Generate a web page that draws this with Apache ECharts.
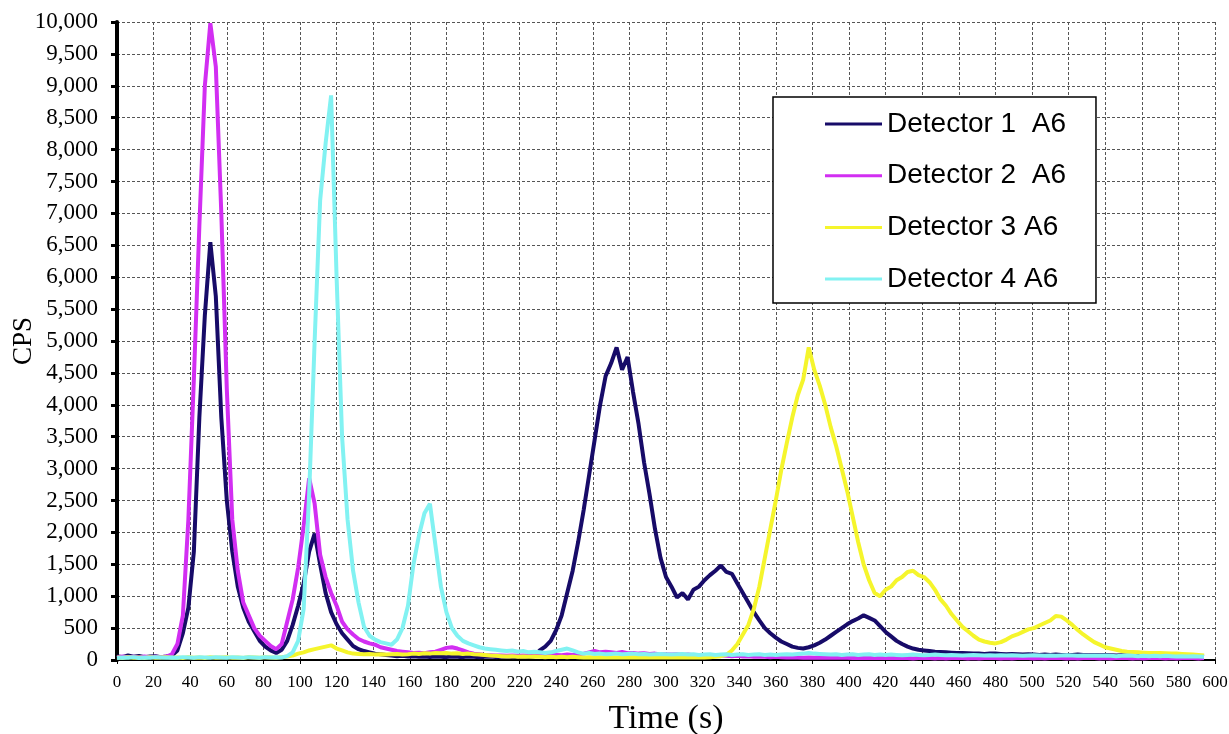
<!DOCTYPE html>
<html>
<head>
<meta charset="UTF-8">
<title>Detector CPS</title>
<script src="https://cdn.jsdelivr.net/npm/echarts@6/dist/echarts.min.js"></script>
<style>
	html, body { margin: 0; padding: 0; background: #fff; }
	#chart { width: 1229px; height: 734px; }
</style>
</head>
<body>
<div id="chart"></div>
<script>
// time samples (s), every 3 s
var time = [
	0, 3, 6, 9, 12, 15, 18, 21, 24, 27,
	30, 33, 36, 39, 42, 45, 48, 51, 54, 57,
	60, 63, 66, 69, 72, 75, 78, 81, 84, 87,
	90, 93, 96, 99, 102, 105, 108, 111, 114, 117,
	120, 123, 126, 129, 132, 135, 138, 141, 144, 147,
	150, 153, 156, 159, 162, 165, 168, 171, 174, 177,
	180, 183, 186, 189, 192, 195, 198, 201, 204, 207,
	210, 213, 216, 219, 222, 225, 228, 231, 234, 237,
	240, 243, 246, 249, 252, 255, 258, 261, 264, 267,
	270, 273, 276, 279, 282, 285, 288, 291, 294, 297,
	300, 303, 306, 309, 312, 315, 318, 321, 324, 327,
	330, 333, 336, 339, 342, 345, 348, 351, 354, 357,
	360, 363, 366, 369, 372, 375, 378, 381, 384, 387,
	390, 393, 396, 399, 402, 405, 408, 411, 414, 417,
	420, 423, 426, 429, 432, 435, 438, 441, 444, 447,
	450, 453, 456, 459, 462, 465, 468, 471, 474, 477,
	480, 483, 486, 489, 492, 495, 498, 501, 504, 507,
	510, 513, 516, 519, 522, 525, 528, 531, 534, 537,
	540, 543, 546, 549, 552, 555, 558, 561, 564, 567,
	570, 573, 576, 579, 582, 585, 588, 591, 594
];

var det1 = [
	60, 45, 70, 50, 65, 45, 55, 60, 45, 55,
	70, 150, 420, 820, 1700, 3800, 5400, 6550, 5700, 3800,
	2500, 1700, 1150, 820, 600, 450, 300, 210, 150, 110,
	160, 300, 550, 850, 1200, 1700, 1980, 1500, 1050, 750,
	560, 420, 320, 220, 170, 140, 120, 100, 90, 80,
	70, 60, 65, 55, 60, 50, 55, 45, 55, 50,
	45, 55, 50, 45, 55, 50, 45, 50, 55, 45,
	50, 55, 45, 50, 55, 45, 60, 150, 210, 300,
	470, 700, 1050, 1400, 1850, 2350, 2900, 3450, 4000, 4450,
	4650, 4900, 4550, 4750, 4200, 3700, 3100, 2600, 2050, 1600,
	1300, 1150, 980, 1050, 950, 1100, 1150, 1250, 1330, 1400,
	1480, 1380, 1350, 1200, 1050, 900, 750, 620, 500, 420,
	350, 290, 250, 210, 190, 180, 200, 230, 270, 320,
	380, 440, 500, 560, 610, 650, 700, 660, 620, 530,
	440, 370, 300, 250, 210, 180, 160, 150, 140, 130,
	125, 120, 115, 110, 110, 105, 100, 100, 95, 100,
	100, 95, 90, 95, 90, 85, 90, 85, 80, 85,
	80, 85, 80, 75, 80, 85, 80, 75, 80, 75,
	80, 75, 70, 75, 70, 65, 70, 65, 60, 65,
	60, 65, 60, 55, 60, 55, 60, 55, 50
];

var det2 = [
	40, 55, 45, 50, 40, 55, 45, 50, 45, 55,
	90, 250, 700, 2200, 4400, 6800, 9000, 9980, 9300, 7000,
	4250, 2200, 1400, 900, 700, 500, 380, 300, 220, 170,
	250, 600, 950, 1450, 2100, 2850, 2450, 1650, 1300, 1050,
	850, 600, 480, 400, 330, 290, 260, 240, 200, 180,
	160, 140, 130, 120, 110, 115, 105, 120, 130, 160,
	190, 200, 180, 150, 120, 100, 90, 80, 75, 70,
	70, 65, 70, 65, 70, 65, 70, 75, 70, 75,
	80, 75, 85, 80, 90, 100, 120, 140, 120, 130,
	120, 110, 125, 105, 110, 100, 105, 95, 100, 90,
	90, 85, 90, 80, 85, 75, 80, 70, 75, 70,
	70, 65, 60, 65, 55, 60, 50, 55, 50, 45,
	50, 45, 40, 45, 40, 35, 40, 35, 40, 35,
	40, 35, 40, 35, 30, 35, 30, 35, 30, 35,
	30, 35, 30, 35, 30, 25, 30, 35, 30, 25,
	30, 25, 30, 35, 30, 25, 30, 25, 30, 35,
	30, 25, 30, 25, 30, 35, 30, 25, 30, 25,
	30, 35, 30, 25, 30, 25, 30, 35, 30, 25,
	30, 25, 30, 35, 30, 25, 30, 25, 30, 35,
	30, 25, 30, 25, 30, 35, 30, 25, 30
];

var det3 = [
	40, 30, 45, 35, 40, 30, 45, 35, 40, 45,
	35, 40, 30, 45, 35, 40, 30, 45, 35, 40,
	45, 35, 40, 30, 45, 40, 35, 45, 40, 35,
	45, 55, 70, 100, 120, 150, 170, 190, 210, 230,
	180, 150, 120, 100, 95, 90, 95, 85, 90, 85,
	90, 95, 85, 90, 100, 95, 105, 100, 110, 105,
	110, 100, 105, 95, 100, 90, 85, 80, 70, 65,
	60, 55, 60, 50, 55, 50, 55, 50, 45, 50,
	45, 50, 45, 50, 45, 40, 45, 40, 45, 40,
	45, 40, 45, 40, 45, 40, 45, 40, 45, 40,
	45, 40, 45, 40, 45, 40, 45, 40, 45, 50,
	60, 80, 150, 250, 400, 550, 800, 1150, 1600, 2050,
	2500, 2980, 3400, 3800, 4150, 4400, 4900, 4550, 4300, 4000,
	3650, 3350, 3000, 2650, 2250, 1850, 1500, 1250, 1050, 1000,
	1100, 1150, 1250, 1300, 1380, 1400, 1330, 1300, 1220, 1100,
	950, 850, 720, 620, 520, 450, 380, 320, 290, 270,
	260, 280, 320, 370, 400, 440, 480, 500, 540, 580,
	620, 690, 680, 620, 550, 470, 400, 340, 280, 240,
	200, 180, 160, 140, 130, 125, 120, 115, 110, 110,
	110, 105, 100, 100, 95, 90, 85, 80, 70
];

var det4 = [
	30, 40, 35, 45, 30, 40, 35, 45, 40, 35,
	40, 35, 45, 40, 35, 45, 40, 35, 45, 40,
	35, 45, 40, 35, 45, 40, 35, 45, 40, 45,
	40, 60, 120, 300, 800, 2600, 5000, 7200, 8100, 8850,
	6000, 3500, 2200, 1400, 900, 520, 380, 320, 280, 260,
	240, 320, 500, 850, 1500, 1950, 2300, 2450, 1800, 1150,
	750, 500, 380, 300, 260, 230, 200, 180, 170, 160,
	150, 140, 150, 130, 140, 120, 130, 120, 110, 120,
	140, 160, 180, 150, 120, 100, 110, 95, 100, 90,
	95, 100, 90, 95, 100, 90, 95, 85, 90, 95,
	90, 85, 90, 95, 85, 90, 80, 85, 90, 80,
	85, 90, 80, 85, 90, 80, 85, 90, 80, 85,
	80, 85, 90, 85, 95, 100, 110, 100, 95, 90,
	85, 90, 80, 85, 90, 80, 85, 90, 80, 85,
	80, 85, 80, 75, 80, 85, 80, 75, 80, 85,
	80, 75, 80, 75, 70, 75, 80, 75, 70, 75,
	70, 75, 70, 75, 70, 65, 70, 75, 70, 65,
	70, 65, 70, 75, 70, 65, 70, 65, 70, 65,
	70, 65, 60, 65, 70, 65, 60, 65, 60, 65,
	60, 65, 60, 55, 60, 55, 60, 55, 50
];

var names = ['Detector 1  A6', 'Detector 2  A6', 'Detector 3 A6', 'Detector 4 A6'];
var colors = ['#170b68', '#d22ef2', '#f5f52c', '#82f2f2'];
var values = [det1, det2, det3, det4];

function pairs(ys) {
	var out = [];
	for (var i = 0; i < time.length && i < ys.length; i++) out.push([time[i], ys[i]]);
	return out;
}

var chart = echarts.init(document.getElementById('chart'), null, { renderer: 'canvas' });

var gridLine = { show: true, lineStyle: { color: '#555', width: 1, type: [3, 2] } };

var series = [];
for (var k = 0; k < names.length; k++) {
	series.push({
		name: names[k],
		type: 'line',
		data: pairs(values[k]),
		symbol: 'none',
		lineStyle: { color: colors[k], width: 4 },
		itemStyle: { color: colors[k] },
		emphasis: { disabled: true }
	});
}

var legendData = [];
for (var j = 0; j < names.length; j++) {
	legendData.push({ name: names[j], icon: 'rect', itemStyle: { color: colors[j] } });
}

chart.setOption({
	animation: false,
	backgroundColor: '#fff',
	grid: { left: 117, right: 14, top: 22, bottom: 74, containLabel: false, outerBoundsMode: 'none' },
	legend: {
		orient: 'vertical',
		left: 773,
		top: 97,
		padding: [13, 30, 10, 52],
		itemGap: 23.7,
		itemWidth: 57,
		itemHeight: 3,
		selectedMode: false,
		borderColor: '#000',
		borderWidth: 1.5,
		backgroundColor: '#fff',
		textStyle: { fontFamily: 'Liberation Sans', fontSize: 28, color: '#000', lineHeight: 26 },
		data: legendData
	},
	xAxis: {
		type: 'value',
		min: 0,
		max: 600,
		interval: 20,
		name: 'Time (s)',
		nameLocation: 'middle',
		nameGap: 42,
		nameMoveOverlap: false,
		nameTextStyle: { fontFamily: 'Liberation Serif', fontSize: 34, color: '#000' },
		axisLine: { show: true, lineStyle: { color: '#000', width: 2 } },
		axisTick: { show: true, length: 4, lineStyle: { color: '#000', width: 1 } },
		axisLabel: { fontFamily: 'Liberation Serif', fontSize: 17, color: '#000', margin: 14 },
		splitLine: gridLine
	},
	yAxis: {
		type: 'value',
		min: 0,
		max: 10000,
		interval: 500,
		name: 'CPS',
		nameLocation: 'middle',
		nameRotate: 90,
		nameGap: 80,
		nameMoveOverlap: false,
		nameTextStyle: { fontFamily: 'Liberation Serif', fontSize: 27, color: '#000' },
		axisLine: { show: true, lineStyle: { color: '#000', width: 4 } },
		axisTick: { show: true, length: 6, lineStyle: { color: '#000', width: 3 } },
		axisLabel: {
			fontFamily: 'Liberation Serif', fontSize: 23, color: '#000', margin: 19,
			formatter: function (v) { return v.toLocaleString('en-US'); }
		},
		splitLine: gridLine
	},
	series: series
});
</script>
</body>
</html>
